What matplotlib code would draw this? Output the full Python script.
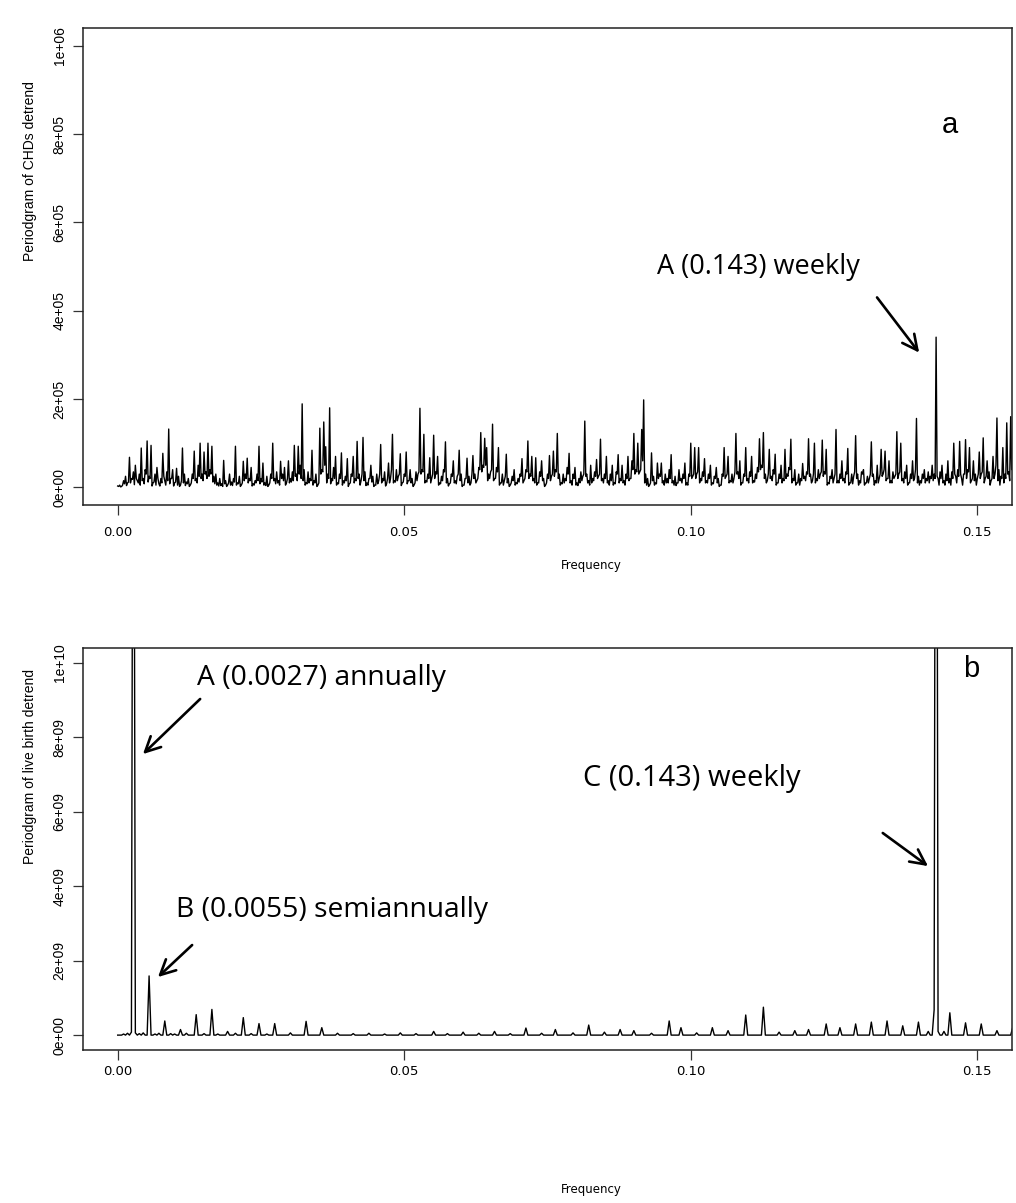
import numpy as np
import matplotlib.pyplot as plt

# Periodogram ordinates, frequency step 1/2920 cycles per day
freq_step = 1 / 2920

# (a) CHDs, in units of 1e5: ordinates on the frequency grid ...
chd_power = [
    0.03, 0.05, 0.02, 0.15, 0.25, 0.1, 0.68, 0.2, 0.35, 0.5,
    0.15, 0.3, 0.89, 0.2, 0.4, 1.05, 0.25, 0.95, 0.1, 0.3,
    0.45, 0.08, 0.2, 0.77, 0.15, 0.35, 1.32, 0.2, 0.4, 0.1,
    0.43, 0.25, 0.05, 0.89, 0.3, 0.12, 0.2, 0.05, 0.3, 0.82,
    0.2, 0.5, 1.0, 0.3, 0.8, 0.35, 1.0, 0.4, 0.93, 0.25,
    0.3, 0.1, 0.2, 0.08, 0.61, 0.15, 0.05, 0.3, 0.12, 0.2,
    0.93, 0.1, 0.25, 0.05, 0.59, 0.3, 0.66, 0.2, 0.45, 0.08,
    0.15, 0.3, 0.93, 0.2, 0.55, 0.1, 0.25, 0.05, 0.3, 1.0,
    0.2, 0.35, 0.15, 0.59, 0.3, 0.45, 0.1, 0.6, 0.2, 0.35,
    0.95, 0.3, 0.93, 0.5, 1.89, 0.4, 0.1, 0.35, 0.2, 0.84,
    0.15, 0.3, 0.05, 1.34, 0.4, 1.48, 0.92, 0.3, 1.8, 0.2,
    0.45, 0.7, 0.1, 0.3, 0.78, 0.15, 0.25, 0.65, 0.08, 0.3,
    0.7, 0.2, 1.04, 0.3, 0.15, 1.13, 0.35, 0.1, 0.2, 0.5,
    0.25, 0.05, 0.3, 0.15, 0.97, 0.2, 0.35, 0.08, 0.55, 0.2,
    1.2, 0.15, 0.4, 0.25, 0.76, 0.1, 0.3, 0.8, 0.15, 0.4,
    0.2, 0.05, 0.35, 0.3, 1.79, 0.4, 1.2, 0.15, 0.3, 0.67,
    0.2, 1.18, 0.35, 0.7, 0.1, 0.25, 0.4, 1.03, 0.2, 0.08,
    0.3, 0.6, 0.15, 0.25, 0.84, 0.3, 0.05, 0.2, 0.66, 0.25,
    0.1, 0.72, 0.3, 0.15, 0.45, 1.24, 0.5, 1.11, 0.9, 0.3,
    0.35, 1.43, 0.2, 0.45, 0.9, 0.1, 0.3, 0.15, 0.75, 0.2,
    0.05, 0.25, 0.4, 0.1, 0.2, 0.3, 0.65, 0.15, 0.4, 1.05,
    0.3, 0.7, 0.2, 0.67, 0.1, 0.35, 0.6, 0.2, 0.05, 0.3,
    0.72, 0.25, 0.82, 0.4, 1.22, 0.3, 0.1, 0.3, 0.2, 0.45,
    0.77, 0.15, 0.3, 0.45, 0.1, 0.2, 0.35, 0.25, 1.5, 0.3,
    0.15, 0.5, 0.2, 0.35, 0.63, 0.25, 1.09, 0.2, 0.3, 0.7,
    0.15, 0.3, 0.5, 0.1, 0.35, 0.74, 0.2, 0.5, 0.15, 0.3,
    0.7, 0.2, 0.6, 1.22, 0.4, 1.0, 0.35, 1.31, 1.98, 0.3,
    0.2, 0.05, 0.78, 0.25, 0.1, 0.55, 0.3, 0.55, 0.15, 0.3,
    0.2, 0.4, 0.74, 0.15, 0.25, 0.1, 0.4, 0.2, 0.3, 0.55,
    0.1, 0.3, 1.0, 0.25, 0.9, 0.3, 0.9, 0.2, 0.35, 0.65,
    0.15, 0.3, 0.5, 0.1, 0.25, 0.45, 0.2, 0.05, 0.3, 0.9,
    0.25, 0.7, 0.15, 0.3, 0.2, 1.22, 0.35, 0.6, 0.1, 0.3,
    0.9, 0.2, 0.35, 0.7, 0.15, 0.3, 0.45, 1.1, 0.5, 1.24,
    0.3, 0.15, 0.86, 0.25, 0.4, 0.75, 0.1, 0.3, 0.5, 0.2,
    0.86, 0.3, 0.45, 1.09, 0.2, 0.4, 0.1, 0.3, 0.2, 0.54,
    0.25, 0.35, 1.1, 0.3, 0.15, 1.0, 0.2, 0.4, 0.3, 1.07,
    0.35, 0.86, 0.1, 0.25, 0.4, 0.2, 1.31, 0.15, 0.3, 0.6,
    0.2, 0.35, 0.88, 0.1, 0.3, 0.25, 1.17, 0.3, 0.15, 0.35,
    0.4, 0.1, 0.25, 0.2, 1.03, 0.3, 0.15, 0.5, 0.2, 0.86,
    0.3, 0.82, 0.2, 0.6, 0.15, 0.35, 0.25, 1.26, 0.3, 1.0,
    0.2, 0.35, 0.5, 0.1, 0.3, 0.6, 0.2, 1.56, 0.25, 0.15,
    0.3, 0.4, 0.2, 0.35, 0.25, 0.5, 0.3, 3.4, 0.2, 0.35,
    0.5, 0.15, 0.3, 0.6, 0.2, 0.35, 1.0, 0.25, 0.4, 1.04,
    0.2, 0.3, 1.08, 0.4, 0.9, 0.15, 0.6, 0.3, 0.2, 0.8,
    0.3, 1.12, 0.2, 0.6, 0.35, 0.15, 0.7, 0.3, 1.57, 0.4,
    0.25, 0.9, 0.3, 1.46, 0.35, 1.6, 0.5, 1.0, 1.2,
]
# ... and the ordinates half a step further on, between them
chd_between = [
    0.02, 0.01, 0.05, 0.08, 0.04, 0.12, 0.1, 0.18, 0.06, 0.2,
    0.1, 0.05, 0.15, 0.08, 0.3, 0.12, 0.2, 0.03, 0.12, 0.05,
    0.2, 0.03, 0.1, 0.25, 0.05, 0.15, 0.08, 0.2, 0.03, 0.12,
    0.05, 0.02, 0.15, 0.1, 0.04, 0.08, 0.02, 0.1, 0.2, 0.15,
    0.1, 0.25, 0.2, 0.15, 0.3, 0.2, 0.25, 0.3, 0.12, 0.08,
    0.05, 0.03, 0.04, 0.02, 0.08, 0.02, 0.1, 0.05, 0.04, 0.12,
    0.05, 0.08, 0.02, 0.1, 0.15, 0.2, 0.1, 0.15, 0.03, 0.05,
    0.1, 0.15, 0.08, 0.12, 0.05, 0.04, 0.02, 0.1, 0.2, 0.15,
    0.08, 0.1, 0.05, 0.2, 0.15, 0.05, 0.2, 0.1, 0.12, 0.15,
    0.25, 0.15, 0.3, 0.2, 0.15, 0.05, 0.08, 0.1, 0.15, 0.05,
    0.1, 0.02, 0.1, 0.3, 0.35, 0.5, 0.1, 0.2, 0.08, 0.15,
    0.2, 0.05, 0.08, 0.2, 0.05, 0.1, 0.15, 0.02, 0.1, 0.25,
    0.1, 0.15, 0.2, 0.05, 0.3, 0.15, 0.04, 0.05, 0.2, 0.12,
    0.02, 0.05, 0.08, 0.3, 0.1, 0.15, 0.03, 0.2, 0.1, 0.4,
    0.1, 0.12, 0.15, 0.3, 0.04, 0.12, 0.25, 0.08, 0.15, 0.1,
    0.02, 0.1, 0.15, 0.35, 0.3, 0.35, 0.1, 0.12, 0.2, 0.1,
    0.3, 0.2, 0.3, 0.05, 0.08, 0.15, 0.35, 0.1, 0.03, 0.1,
    0.25, 0.1, 0.08, 0.3, 0.15, 0.02, 0.05, 0.2, 0.1, 0.05,
    0.3, 0.2, 0.1, 0.2, 0.4, 0.35, 0.45, 0.5, 0.15, 0.2,
    0.4, 0.15, 0.2, 0.35, 0.05, 0.1, 0.05, 0.25, 0.1, 0.02,
    0.1, 0.15, 0.05, 0.08, 0.12, 0.25, 0.1, 0.2, 0.35, 0.2,
    0.25, 0.15, 0.1, 0.05, 0.1, 0.25, 0.15, 0.02, 0.1, 0.2,
    0.15, 0.3, 0.25, 0.35, 0.2, 0.05, 0.08, 0.1, 0.15, 0.3,
    0.1, 0.05, 0.2, 0.05, 0.04, 0.1, 0.15, 0.3, 0.25, 0.1,
    0.05, 0.1, 0.15, 0.25, 0.2, 0.3, 0.15, 0.1, 0.2, 0.1,
    0.05, 0.15, 0.05, 0.08, 0.3, 0.1, 0.15, 0.1, 0.05, 0.2,
    0.15, 0.2, 0.4, 0.3, 0.35, 0.3, 0.4, 0.6, 0.1, 0.05,
    0.02, 0.1, 0.15, 0.05, 0.08, 0.2, 0.25, 0.1, 0.05, 0.1,
    0.1, 0.2, 0.1, 0.05, 0.04, 0.1, 0.15, 0.1, 0.2, 0.05,
    0.05, 0.25, 0.2, 0.3, 0.2, 0.35, 0.1, 0.15, 0.25, 0.1,
    0.1, 0.2, 0.05, 0.08, 0.2, 0.1, 0.02, 0.05, 0.25, 0.2,
    0.3, 0.1, 0.12, 0.1, 0.35, 0.3, 0.2, 0.05, 0.1, 0.25,
    0.15, 0.1, 0.25, 0.1, 0.12, 0.2, 0.35, 0.4, 0.45, 0.2,
    0.1, 0.3, 0.2, 0.15, 0.3, 0.05, 0.1, 0.2, 0.1, 0.15,
    0.2, 0.25, 0.4, 0.1, 0.15, 0.05, 0.1, 0.05, 0.15, 0.2,
    0.15, 0.3, 0.25, 0.1, 0.3, 0.1, 0.15, 0.2, 0.35, 0.25,
    0.3, 0.05, 0.08, 0.2, 0.1, 0.3, 0.1, 0.1, 0.2, 0.15,
    0.1, 0.3, 0.05, 0.1, 0.08, 0.35, 0.2, 0.05, 0.1, 0.3,
    0.05, 0.1, 0.1, 0.3, 0.25, 0.05, 0.1, 0.1, 0.3, 0.25,
    0.4, 0.15, 0.2, 0.1, 0.1, 0.2, 0.3, 0.2, 0.35, 0.15,
    0.1, 0.2, 0.05, 0.1, 0.2, 0.15, 0.4, 0.1, 0.05, 0.1,
    0.2, 0.1, 0.15, 0.1, 0.2, 0.15, 0.2, 0.25, 0.05, 0.2,
    0.1, 0.05, 0.15, 0.1, 0.05, 0.2, 0.3, 0.1, 0.25, 0.3,
    0.05, 0.3, 0.2, 0.35, 0.1, 0.2, 0.15, 0.05, 0.3, 0.2,
    0.35, 0.1, 0.25, 0.2, 0.05, 0.2, 0.2, 0.5, 0.15, 0.05,
    0.2, 0.1, 0.2, 0.3, 0.15, 0.4, 0.3, 0.6,
]

# (b) live births: nonzero ordinates by frequency index, heights in units of 1e9
birth_idx = [3, 5, 7, 8, 9, 11, 13, 16, 19, 21, 24, 27, 29, 32, 35, 40, 44, 48,
             51, 56, 60, 64, 68, 72, 76, 80, 88, 96, 104, 112, 120, 128, 136,
             144, 152, 161, 168, 176, 184, 192, 200, 208, 216, 223, 232, 240,
             248, 256, 263, 272, 281, 287, 295, 303, 311, 320, 329, 337, 345,
             352, 361, 368, 376, 384, 392, 400, 408, 413, 416, 417, 418, 421,
             424, 432, 440, 448, 456]
birth_val = [0.03, 0.05, 0.08, 25.0, 0.06, 0.04, 0.06, 1.59, 0.03, 0.05, 0.38, 0.04,
             0.03, 0.15, 0.05, 0.55, 0.04, 0.69, 0.03, 0.1, 0.05, 0.47, 0.04, 0.31,
             0.03, 0.31, 0.06, 0.37, 0.2, 0.05, 0.04, 0.05, 0.03, 0.06, 0.04, 0.1,
             0.04, 0.08, 0.05, 0.1, 0.04, 0.19, 0.05, 0.15, 0.06, 0.27, 0.08, 0.15,
             0.12, 0.05, 0.38, 0.2, 0.06, 0.2, 0.12, 0.54, 0.75, 0.08, 0.12, 0.15,
             0.3, 0.2, 0.3, 0.35, 0.38, 0.25, 0.35, 0.1, 0.68, 30.0, 0.1, 0.1,
             0.6, 0.33, 0.3, 0.12, 0.2]

n = len(chd_power)
chd = np.empty(2 * n - 1)
chd[0::2] = chd_power
chd[1::2] = chd_between
chd *= 1e5
chd_freq = np.arange(2 * n - 1) * freq_step / 2

freq = np.arange(n) * freq_step
births = np.zeros(n)
births[birth_idx] = np.array(birth_val) * 1e9

W, H = 1016, 1203
fig = plt.figure(figsize=(W / 100, H / 100), dpi=100)


def px_axes(left, top, right, bottom):
    return fig.add_axes([left / W, 1 - bottom / H, (right - left) / W, (bottom - top) / H])


tick_font = dict(family=["DejaVu Sans"], size=9.5)
ytick_font = ["Liberation Sans Narrow", "Liberation Sans"]
note_font = ["Open Sans", "DejaVu Sans"]


def style(ax, ymax, labels, xpad):
    ax.set_xlim(-0.006, 0.156)
    ax.set_ylim(-0.04 * ymax, 1.04 * ymax)
    ax.set_xticks([0, 0.05, 0.10, 0.15])
    ax.set_xticklabels(["0.00", "0.05", "0.10", "0.15"], fontdict=tick_font)
    ax.set_yticks(np.linspace(0, ymax, 6))
    ax.set_yticklabels(labels, rotation=90, va="center", family=ytick_font, size=10)
    ax.tick_params(direction="out", length=7, width=0.9, color="#333333")
    ax.tick_params(axis="x", pad=xpad)
    ax.tick_params(axis="y", pad=5)
    for sp in ax.spines.values():
        sp.set_linewidth(1.1)
        sp.set_color("#222222")


arrow = dict(arrowstyle="->,head_length=0.9,head_width=0.45", lw=1.9, color="black",
             mutation_scale=12, shrinkA=0, shrinkB=0)

# panel a
ax_a = px_axes(83.3, 28, 1011.7, 505)
ax_a.plot(chd_freq, chd, color="black", lw=1.0)
style(ax_a, 1e6, ["0e+00", "2e+05", "4e+05", "6e+05", "8e+05", "1e+06"], 8)
ax_a.annotate("", xy=(0.13985, 3.05e5), xytext=(0.1325, 4.30e5), arrowprops=arrow)
ax_a.text(0.0941, 4.98e5, "A (0.143) weekly", family=note_font, size=19.5, va="center")
ax_a.text(0.1452, 8.2e5, "a", family=["Liberation Sans"], size=21, ha="center", va="center")
fig.text(591 / W, 1 - 565 / H, "Frequency", ha="center", va="center",
         family=["DejaVu Sans"], size=8.5)
fig.text(30 / W, 1 - 171 / H, "Periodgram of CHDs detrend", rotation=90,
         ha="center", va="center", family=["Liberation Sans"], size=10)

# panel b
ax_b = px_axes(83.3, 648, 1011.7, 1050)
ax_b.plot(freq, births, color="black", lw=1.0)
style(ax_b, 1e10, ["0e+00", "2e+09", "4e+09", "6e+09", "8e+09", "1e+10"], 4)
ax_b.annotate("", xy=(0.00441, 7.55e9), xytext=(0.01439, 9.03e9), arrowprops=arrow)
ax_b.text(0.01387, 9.6e9, "A (0.0027) annually", family=note_font, size=20.3, va="center")
ax_b.annotate("", xy=(0.00703, 1.56e9), xytext=(0.01299, 2.42e9), arrowprops=arrow)
ax_b.text(0.01021, 3.36e9, "B (0.0055) semiannually", family=note_font, size=20.3, va="center")
ax_b.annotate("", xy=(0.1414, 4.54e9), xytext=(0.1335, 5.43e9), arrowprops=arrow)
ax_b.text(0.08118, 6.9e9, "C (0.143) weekly", family=note_font, size=21, va="center")
ax_b.text(0.149, 9.84e9, "b", family=["Liberation Sans"], size=21, ha="center", va="center")
fig.text(591 / W, 1 - 1190 / H, "Frequency", ha="center", va="center",
         family=["DejaVu Sans"], size=8.5)
fig.text(30 / W, 1 - 766 / H, "Periodgram of live birth detrend", rotation=90,
         ha="center", va="center", family=["Liberation Sans"], size=10)

fig.savefig("out.png", dpi=100)
